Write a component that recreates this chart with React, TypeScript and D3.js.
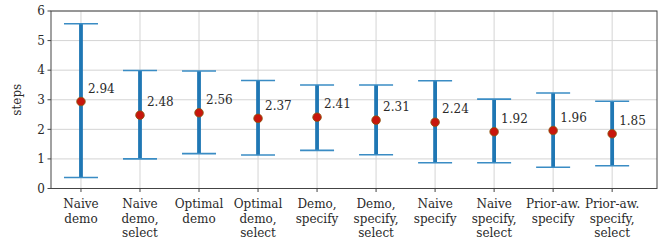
import React from "react";
import * as d3 from "d3";

const categories: string[][] = [
  ["Naive", "demo"],
  ["Naive", "demo,", "select"],
  ["Optimal", "demo"],
  ["Optimal", "demo,", "select"],
  ["Demo,", "specify"],
  ["Demo,", "specify,", "select"],
  ["Naive", "specify"],
  ["Naive", "specify,", "select"],
  ["Prior-aw.", "specify"],
  ["Prior-aw.", "specify,", "select"],
];
const means = [2.94, 2.48, 2.56, 2.37, 2.41, 2.31, 2.24, 1.92, 1.96, 1.85];
const lows = [0.37, 1.0, 1.18, 1.13, 1.29, 1.14, 0.87, 0.87, 0.72, 0.77];
const highs = [5.57, 3.99, 3.97, 3.65, 3.5, 3.5, 3.64, 3.02, 3.23, 2.95];
const yTicks = [0, 1, 2, 3, 4, 5, 6];

const W = 665;
const H = 245;
const left = 51;
const right = 657;
const top = 11;
const bottom = 188.5;
const font = "DejaVu Serif";

export default function App() {
  const x = d3.scaleLinear().domain([-0.508, 9.76]).range([left, right]);
  const y = d3.scaleLinear().domain([0, 6]).range([bottom, top]);
  const idx = d3.range(categories.length);
  return (
    <svg width={W} height={H} style={{ position: "absolute", left: 0, top: 0 }}>
      <rect x={0} y={0} width={W} height={H} fill="#fff" />
      {yTicks.map((t) => (
        <line key={"gy" + t} x1={left} x2={right} y1={y(t)} y2={y(t)} stroke="#d4d4d4" strokeWidth={1} />
      ))}
      {idx.map((i) => (
        <line key={"gx" + i} x1={x(i)} x2={x(i)} y1={top} y2={bottom} stroke="#d4d4d4" strokeWidth={1} />
      ))}
      {idx.map((i) => (
        <g key={"e" + i}>
          <line x1={x(i)} x2={x(i)} y1={y(lows[i])} y2={y(highs[i])} stroke="#1f77b4" strokeWidth={3.8} />
          <line x1={x(i) - 17} x2={x(i) + 17} y1={y(lows[i])} y2={y(lows[i])} stroke="#3a8cc4" strokeWidth={1.6} />
          <line x1={x(i) - 17} x2={x(i) + 17} y1={y(highs[i])} y2={y(highs[i])} stroke="#3a8cc4" strokeWidth={1.6} />
          <circle cx={x(i)} cy={y(means[i])} r={4.3} fill="#c8160c" stroke="#8a5a10" strokeWidth={0.8} />
          <text x={x(i) + 7} y={y(means[i] + 0.3)} fontFamily={font} fontSize={12} fill="#2a2a2a">
            {means[i].toFixed(2)}
          </text>
        </g>
      ))}
      <rect x={left} y={top} width={right - left} height={bottom - top} fill="none" stroke="#444" strokeWidth={1} />
      {yTicks.map((t) => (
        <g key={"yt" + t}>
          <line x1={left - 3.5} x2={left} y1={y(t)} y2={y(t)} stroke="#444" />
          <text x={left - 6} y={y(t)} dy="0.35em" textAnchor="end" fontFamily={font} fontSize={12} fill="#2a2a2a">
            {t}
          </text>
        </g>
      ))}
      {idx.map((i) => (
        <g key={"xt" + i}>
          <line x1={x(i)} x2={x(i)} y1={bottom} y2={bottom + 3.5} stroke="#444" />
          <text textAnchor="middle" fontFamily={font} fontSize={12} fill="#2a2a2a">
            {categories[i].map((s, j) => (
              <tspan key={j} x={x(i)} y={208 + j * 14.5}>
                {s}
              </tspan>
            ))}
          </text>
        </g>
      ))}
      <text
        transform={`translate(21,${(top + bottom) / 2}) rotate(-90)`}
        textAnchor="middle"
        fontFamily={font}
        fontSize={12}
        fill="#2a2a2a"
      >
        steps
      </text>
    </svg>
  );
}
